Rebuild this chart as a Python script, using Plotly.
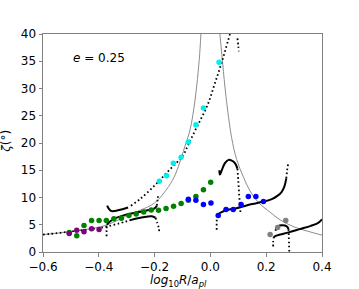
import plotly.graph_objects as go

# ---- gray reference curves ----
gray_left_x = [-0.6, -0.5, -0.4, -0.35, -0.29, -0.25, -0.2, -0.15, -0.125, -0.105, -0.09, -0.073, -0.055, -0.04, -0.034]
gray_left_z = [3.2, 3.75, 4.55, 5.4, 6.9, 7.7, 9.0, 12.0, 14.3, 17.2, 19.6, 22.4, 27.9, 35.3, 40.0]
gray_right_x = [0.034, 0.044, 0.056, 0.076, 0.094, 0.118, 0.142, 0.172, 0.214, 0.25, 0.3, 0.35, 0.4]
gray_right_z = [40.0, 34.6, 28.5, 21.0, 17.0, 13.8, 11.2, 9.1, 7.3, 5.9, 4.6, 3.8, 3.1]

# ---- black model tracks: (dotted = sparse samples, solid = dense samples) ----
t1_dot_x = [-0.6, -0.55, -0.5, -0.45, -0.4, -0.37, -0.33, -0.29]
t1_dot_z = [3.2, 3.45, 3.75, 4.05, 4.4, 4.7, 5.2, 5.8]
t1_sol_x = [-0.29, -0.26, -0.23, -0.21, -0.197]
t1_sol_z = [5.8, 6.2, 6.45, 6.55, 6.3]
t1_end_x = [-0.197, -0.19, -0.185, -0.183]
t1_end_z = [6.3, 5.3, 4.4, 3.6]

t2_dot_x = [-0.372, -0.372, -0.371]
t2_dot_z = [2.9, 4.0, 5.0]
t2_sol_x = [-0.371, -0.36, -0.34, -0.3, -0.26, -0.22, -0.2, -0.192]
t2_sol_z = [5.0, 5.6, 6.2, 6.9, 7.3, 7.7, 8.0, 8.5]
t2_end_x = [-0.192, -0.189, -0.187]
t2_end_z = [8.5, 9.7, 10.8]

t3_sol_x = [-0.37, -0.365, -0.358, -0.35, -0.335, -0.315, -0.295]
t3_sol_z = [8.5, 8.0, 7.6, 7.5, 7.6, 7.85, 8.15]
t3_dot_x = [-0.285, -0.25, -0.2, -0.15, -0.1, -0.075, -0.042, -0.01, 0.015, 0.04, 0.07]
t3_dot_z = [8.5, 9.8, 12.2, 14.9, 17.6, 20.2, 23.6, 27.0, 30.8, 34.7, 40.0]

t4_dot_x = [0.097, 0.1, 0.102]
t4_dot_z = [39.2, 37.8, 36.8]

t5_sol_x = [0.032, 0.034, 0.04, 0.052, 0.065, 0.075, 0.088, 0.097]
t5_sol_z = [15.0, 14.2, 14.9, 16.3, 16.9, 16.8, 16.3, 15.3]
t5_dot_x = [0.097, 0.1, 0.103, 0.106, 0.108]
t5_dot_z = [15.3, 13.0, 10.5, 8.5, 6.9]

t6_dot_x = [0.0225, 0.0225, 0.023]
t6_dot_z = [4.1, 5.3, 6.5]
t6_sol_x = [0.023, 0.028, 0.04, 0.06, 0.09, 0.12, 0.15, 0.19, 0.22, 0.24, 0.255, 0.265, 0.272]
t6_sol_z = [6.5, 6.9, 7.3, 7.7, 8.0, 8.4, 8.8, 9.25, 9.7, 10.3, 11.0, 12.0, 13.5]
t6_end_x = [0.272, 0.275, 0.279]
t6_end_z = [13.5, 15.0, 16.3]

t7_sol_x = [0.234, 0.236, 0.243, 0.255, 0.267, 0.276, 0.28]
t7_sol_z = [3.9, 4.4, 4.75, 4.9, 4.85, 4.6, 4.2]
t7_dot_x = [0.28, 0.281, 0.282, 0.283]
t7_dot_z = [4.2, 2.8, 1.2, -0.5]

t8_dot_x = [0.225, 0.225, 0.226]
t8_dot_z = [1.0, 1.8, 2.6]
t8_sol_x = [0.226, 0.232, 0.25, 0.28, 0.32, 0.36, 0.385, 0.4]
t8_sol_z = [2.6, 2.9, 3.2, 3.6, 4.2, 4.8, 5.3, 6.0]

# ---- measured points ----
green_x = [-0.506, -0.479, -0.453, -0.426, -0.399, -0.373, -0.346, -0.319, -0.292, -0.266,
           -0.239, -0.212, -0.186, -0.159, -0.132, -0.105, -0.079, -0.052, -0.025, 0.001]
green_z = [3.6, 3.0, 4.85, 5.8, 5.8, 5.8, 6.1, 6.2, 6.7, 6.95,
           7.35, 7.7, 7.65, 8.0, 8.4, 8.9, 9.5, 10.2, 11.4, 12.8]
purple_x = [-0.506, -0.479, -0.453, -0.426, -0.399]
purple_z = [3.4, 4.0, 3.7, 4.25, 4.15]
cyan_x = [-0.183, -0.157, -0.133, -0.105, -0.079, -0.052, -0.025, 0.031]
cyan_z = [13.0, 14.0, 16.3, 17.4, 20.2, 23.35, 26.4, 34.8]
blue_x = [-0.079, -0.052, -0.025, 0.002, 0.028, 0.056, 0.082, 0.11, 0.136, 0.163, 0.19]
blue_z = [9.7, 9.5, 8.7, 9.0, 6.7, 7.8, 7.8, 8.7, 10.2, 10.2, 9.25]
grey_x = [0.214, 0.241, 0.27]
grey_z = [3.2, 4.5, 5.8]

fig = go.Figure()

for gx, gz in [(gray_left_x, gray_left_z), (gray_right_x, gray_right_z)]:
    fig.add_trace(go.Scatter(x=gx, y=gz, mode="lines", line=dict(color="#8c8c8c", width=1, shape="spline"),
                             hoverinfo="skip", showlegend=False))

solid = [(t1_sol_x, t1_sol_z), (t2_sol_x, t2_sol_z), (t3_sol_x, t3_sol_z), (t5_sol_x, t5_sol_z),
         (t6_sol_x, t6_sol_z), (t7_sol_x, t7_sol_z), (t8_sol_x, t8_sol_z)]
dotted = [(t1_dot_x, t1_dot_z), (t1_end_x, t1_end_z), (t2_dot_x, t2_dot_z), (t2_end_x, t2_end_z),
          (t3_dot_x, t3_dot_z), (t4_dot_x, t4_dot_z), (t5_dot_x, t5_dot_z), (t6_dot_x, t6_dot_z),
          (t6_end_x, t6_end_z), (t7_dot_x, t7_dot_z), (t8_dot_x, t8_dot_z)]
for sx, sz in solid:
    fig.add_trace(go.Scatter(x=sx, y=sz, mode="lines", line=dict(color="black", width=2, shape="spline"),
                             showlegend=False))
for dx, dz in dotted:
    fig.add_trace(go.Scatter(x=dx, y=dz, mode="lines",
                             line=dict(color="black", width=1.8, dash="1.6px,2.6px", shape="spline"),
                             showlegend=False))

for px, pz, col in [(green_x, green_z, "#008000"), (purple_x, purple_z, "#800080"),
                    (cyan_x, cyan_z, "#00f0f0"), (blue_x, blue_z, "#0000ff"), (grey_x, grey_z, "#808080")]:
    fig.add_trace(go.Scatter(x=px, y=pz, mode="markers", marker=dict(color=col, size=5.5, line=dict(width=0)),
                             showlegend=False))

axis_common = dict(showgrid=False, zeroline=False, showline=True, linecolor="#808080", linewidth=1,
                   mirror=True, ticks="outside", ticklen=3.5, tickcolor="#808080", tickwidth=1,
                   tickfont=dict(family="DejaVu Sans", size=12, color="black"))
fig.update_xaxes(range=[-0.6, 0.4], tickvals=[-0.6, -0.4, -0.2, 0.0, 0.2, 0.4], tickformat=".1f", **axis_common)
fig.update_yaxes(range=[0, 40], tickvals=[0, 5, 10, 15, 20, 25, 30, 35, 40], **axis_common)

fig.add_annotation(x=-0.5, y=35.6, xref="x", yref="y", text="<i>e</i> = 0.25", showarrow=False,
                   xanchor="left", yanchor="middle", font=dict(family="DejaVu Sans", size=12, color="black"))
fig.add_annotation(x=(6 - 43) / 279, y=(252.5 - 142) / 218.5, xref="paper", yref="paper",
                   text="<i>ζ</i>(°)", textangle=-90, showarrow=False, xanchor="center", yanchor="middle",
                   font=dict(family="DejaVu Sans", size=12, color="black"))
fig.add_annotation(x=(178 - 43) / 279, y=(252.5 - 282) / 218.5, xref="paper", yref="paper",
                   text="<i>log</i><sub>10</sub><i>R</i>/<i>a</i><sub><i>pl</i></sub>", showarrow=False,
                   xanchor="center", yanchor="middle", font=dict(family="DejaVu Sans", size=12, color="black"))

fig.update_layout(width=359, height=289, margin=dict(l=43, r=37, t=34, b=36.5),
                  paper_bgcolor="white", plot_bgcolor="white")
fig.write_html("out.html", config={"displayModeBar": False},
               post_script="document.body.style.margin='0';document.body.style.overflow='hidden';")
